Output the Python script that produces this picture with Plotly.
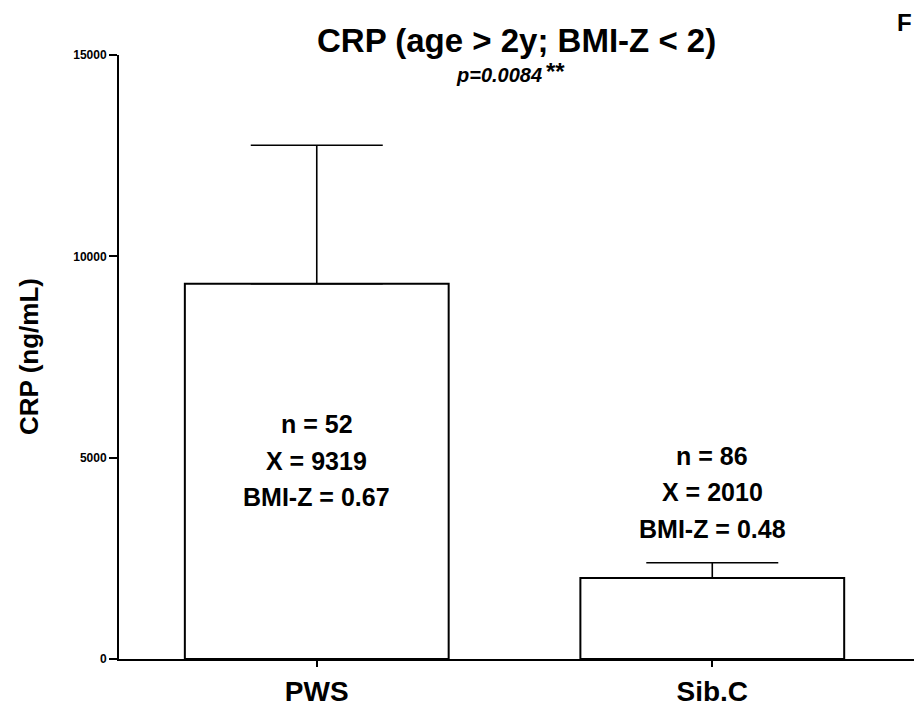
import plotly.graph_objects as go

categories = ["PWS", "Sib.C"]
means = [9319, 2010]
errors_up = [3440, 380]
n_values = [52, 86]
bmi_z = [0.67, 0.48]
y_ticks = [0, 5000, 10000, 15000]

FONT = "Arial, Liberation Sans, Helvetica, sans-serif"

fig = go.Figure()
fig.add_trace(go.Bar(
    x=categories, y=means, width=0.667,
    marker=dict(color="white", line=dict(color="black", width=2)),
    error_y=dict(type="data", array=errors_up, arrayminus=[0, 0], symmetric=False,
                 color="black", thickness=1.6, width=66),
    showlegend=False,
))

# text block positions inside the plot (paper y of each line) per bar
line_pos = {
    "PWS": [(664 - 427) / 609, (664 - 464) / 609, (664 - 501) / 609],
    "Sib.C": [(664 - 459) / 609, (664 - 496) / 609, (664 - 533) / 609],
}
annotations = []
for cat, n, m, b in zip(categories, n_values, means, bmi_z):
    texts = [f"n = {n}", f"X = {m}", f"BMI-Z = {b:.2f}"]
    for t, yp in zip(texts, line_pos[cat]):
        annotations.append(dict(x=cat, xref="x", y=yp, yref="paper", text=f"<b>{t}</b>",
                                showarrow=False, xanchor="center", yanchor="middle",
                                font=dict(family=FONT, size=25, color="black")))

annotations.append(dict(x=0.5, xref="paper", y=(664 - 40) / 609, yref="paper",
                        text="<b>CRP (age > 2y; BMI-Z < 2)</b>", showarrow=False,
                        xanchor="center", yanchor="middle",
                        font=dict(family=FONT, size=33, color="black")))
annotations.append(dict(x=(544 - 119) / 795, xref="paper", y=(664 - 75) / 609, yref="paper",
                        text="<b><i>p=0.0084</i></b>",
                        showarrow=False, xanchor="right", yanchor="middle",
                        font=dict(family=FONT, size=20, color="black")))
annotations.append(dict(x=(544 - 119) / 795, xref="paper", y=(664 - 72) / 609, yref="paper",
                        text="<b>**</b>",
                        showarrow=False, xanchor="left", yanchor="middle",
                        font=dict(family=FONT, size=24, color="black")))
annotations.append(dict(x=(29 - 119) / 795, xref="paper", y=0.5, yref="paper",
                        text="<b>CRP (ng/mL)</b>", showarrow=False, textangle=-90,
                        xanchor="center", yanchor="middle",
                        font=dict(family=FONT, size=26, color="black")))
annotations.append(dict(x=1.0, xref="paper", y=(664 - 22) / 609, yref="paper",
                        text="<b>F</b>", showarrow=False, xanchor="right", yanchor="middle",
                        font=dict(family=FONT, size=24, color="black")))

fig.update_layout(
    width=914, height=707,
    margin=dict(l=119, r=0, t=55, b=43),
    paper_bgcolor="white", plot_bgcolor="white",
    annotations=annotations,
    font=dict(family=FONT, color="black"),
)
fig.update_xaxes(
    type="category", range=[-0.5, 1.51],
    showline=True, linecolor="black", linewidth=2,
    ticks="outside", ticklen=6, tickwidth=2, tickcolor="black",
    ticktext=[f"<b>{c}</b>" for c in categories], tickvals=categories,
    tickfont=dict(family=FONT, size=28, color="black"),
    showgrid=False, zeroline=False,
)
fig.update_yaxes(
    range=[0, 15000], tickvals=y_ticks,
    ticktext=[f"<b>{v}</b>" for v in y_ticks],
    showline=True, linecolor="black", linewidth=2,
    ticks="outside", ticklen=8, tickwidth=2, tickcolor="black",
    tickfont=dict(family=FONT, size=12, color="black"),
    showgrid=False, zeroline=False,
)

fig.write_html("out.html")
